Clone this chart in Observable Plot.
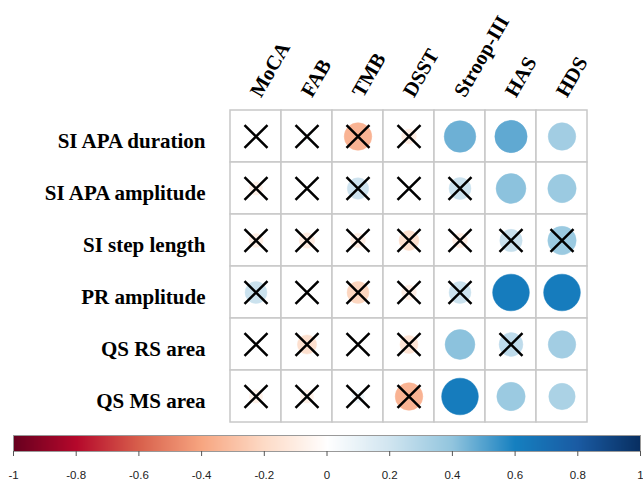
<!DOCTYPE html>
<html><head><meta charset="utf-8">
<script src="https://cdn.jsdelivr.net/npm/d3@7"></script>
<script src="https://cdn.jsdelivr.net/npm/@observablehq/plot@0.6"></script>
<style>body{margin:0;background:#fff;} #chart svg{display:block;}</style>
</head><body><div id="chart"></div><script>
const columns = ["MoCA","FAB","TMB","DSST","Stroop-III","HAS","HDS"];
const rows = ["SI APA duration","SI APA amplitude","SI step length","PR amplitude","QS RS area","QS MS area"];

// correlation values per row (columns order as above)
const siApaDuration  = [0.02, 0.04, -0.35, -0.10, 0.46, 0.48, 0.35];
const siApaAmplitude = [-0.08, 0.01, 0.21, 0.02, 0.22, 0.41, 0.37];
const siStepLength   = [-0.09, -0.11, -0.10, -0.18, -0.10, 0.23, 0.37];
const prAmplitude    = [0.22, 0.01, -0.22, -0.10, 0.22, 0.62, 0.62];
const qsRsArea       = [0.01, -0.17, 0.01, -0.15, 0.41, 0.26, 0.35];
const qsMsArea       = [-0.08, -0.08, 0.07, -0.35, 0.62, 0.37, 0.32];

// 1 = not significant (crossed)
const xSiApaDuration  = [1,1,1,1,0,0,0];
const xSiApaAmplitude = [1,1,1,1,1,0,0];
const xSiStepLength   = [1,1,1,1,1,1,1];
const xPrAmplitude    = [1,1,1,1,1,0,0];
const xQsRsArea       = [1,1,1,1,0,1,0];
const xQsMsArea       = [1,1,1,1,0,0,0];

const colorStops = [-1,-0.8,-0.6,-0.4,-0.2,0,0.2,0.4,0.6,0.8,1];
const colorRange = ["#67001F","#B5082B","#D8604C","#F7A681","#FDDBC7","#FFFFFF","#D1E5F0","#92C5DE","#1580C0","#1A5BA3","#082F61"];
const tickValues = [-1,-0.8,-0.6,-0.4,-0.2,0,0.2,0.4,0.6,0.8,1];

const valueRows = [siApaDuration, siApaAmplitude, siStepLength, prAmplitude, qsRsArea, qsMsArea];
const crossRows = [xSiApaDuration, xSiApaAmplitude, xSiStepLength, xPrAmplitude, xQsRsArea, xQsMsArea];
const cells = [];
rows.forEach((row, i) => columns.forEach((col, j) => {
  cells.push({row, col, v: valueRows[i][j], crossed: crossRows[i][j] === 1});
}));

const colorScale = {type: "linear", domain: colorStops, range: colorRange, interpolate: "rgb"};
const serif = "'Liberation Serif', 'Times New Roman', serif";

const main = Plot.plot({
  width: 643, height: 430,
  marginLeft: 227, marginRight: 54, marginTop: 110, marginBottom: 8,
  x: {type: "band", domain: columns, padding: 0, axis: null},
  y: {type: "band", domain: rows, padding: 0, axis: null},
  r: {type: "sqrt", domain: [0, 1], range: [0, 23.3]},
  color: colorScale,
  style: {background: "white", overflow: "visible"},
  marks: [
    Plot.cell(cells, {x: "col", y: "row", fill: "white", stroke: "#c8c8c8", strokeWidth: 1.5}),
    Plot.dot(cells, {x: "col", y: "row", r: d => Math.abs(d.v), fill: "v", stroke: "v", strokeWidth: 0.5}),
    Plot.dot(cells.filter(d => d.crossed), {x: "col", y: "row", symbol: "times", r: 10.5, stroke: "black", strokeWidth: 2.5}),
    Plot.text(rows, {y: d => d, frameAnchor: "left", dx: -22, dy: 5, textAnchor: "end",
      fontSize: 21, fontWeight: "bold", fontFamily: serif, fill: "black"}),
    Plot.text(columns, {x: d => d, frameAnchor: "top", dx: 5, dy: -12, rotate: -60,
      textAnchor: "start", lineAnchor: "bottom", fontSize: 20.5, fontWeight: "bold", fontFamily: serif, fill: "black"})
  ]
});

const bar = Plot.plot({
  width: 643, height: 54,
  marginLeft: 13, marginRight: 3, marginTop: 5, marginBottom: 33,
  x: {domain: [-1, 1]},
  y: {domain: [0, 1], axis: null},
  color: colorScale,
  style: {background: "white", overflow: "visible"},
  marks: [
    Plot.raster({x1: -1, x2: 1, y1: 0, y2: 1, width: 628, height: 1, fill: (x, y) => x, imageRendering: "auto"}),
    Plot.frame({stroke: "#999", strokeWidth: 1}),
    Plot.axisX({ticks: tickValues, tickFormat: d => String(d), tickSize: 5, tickPadding: 14,
      fontSize: 11.5, fontFamily: "'Liberation Sans', Arial, sans-serif", stroke: "#555", fill: "#222", label: null})
  ]
});

const el = document.getElementById("chart");
el.append(main, bar);
</script></body></html>
